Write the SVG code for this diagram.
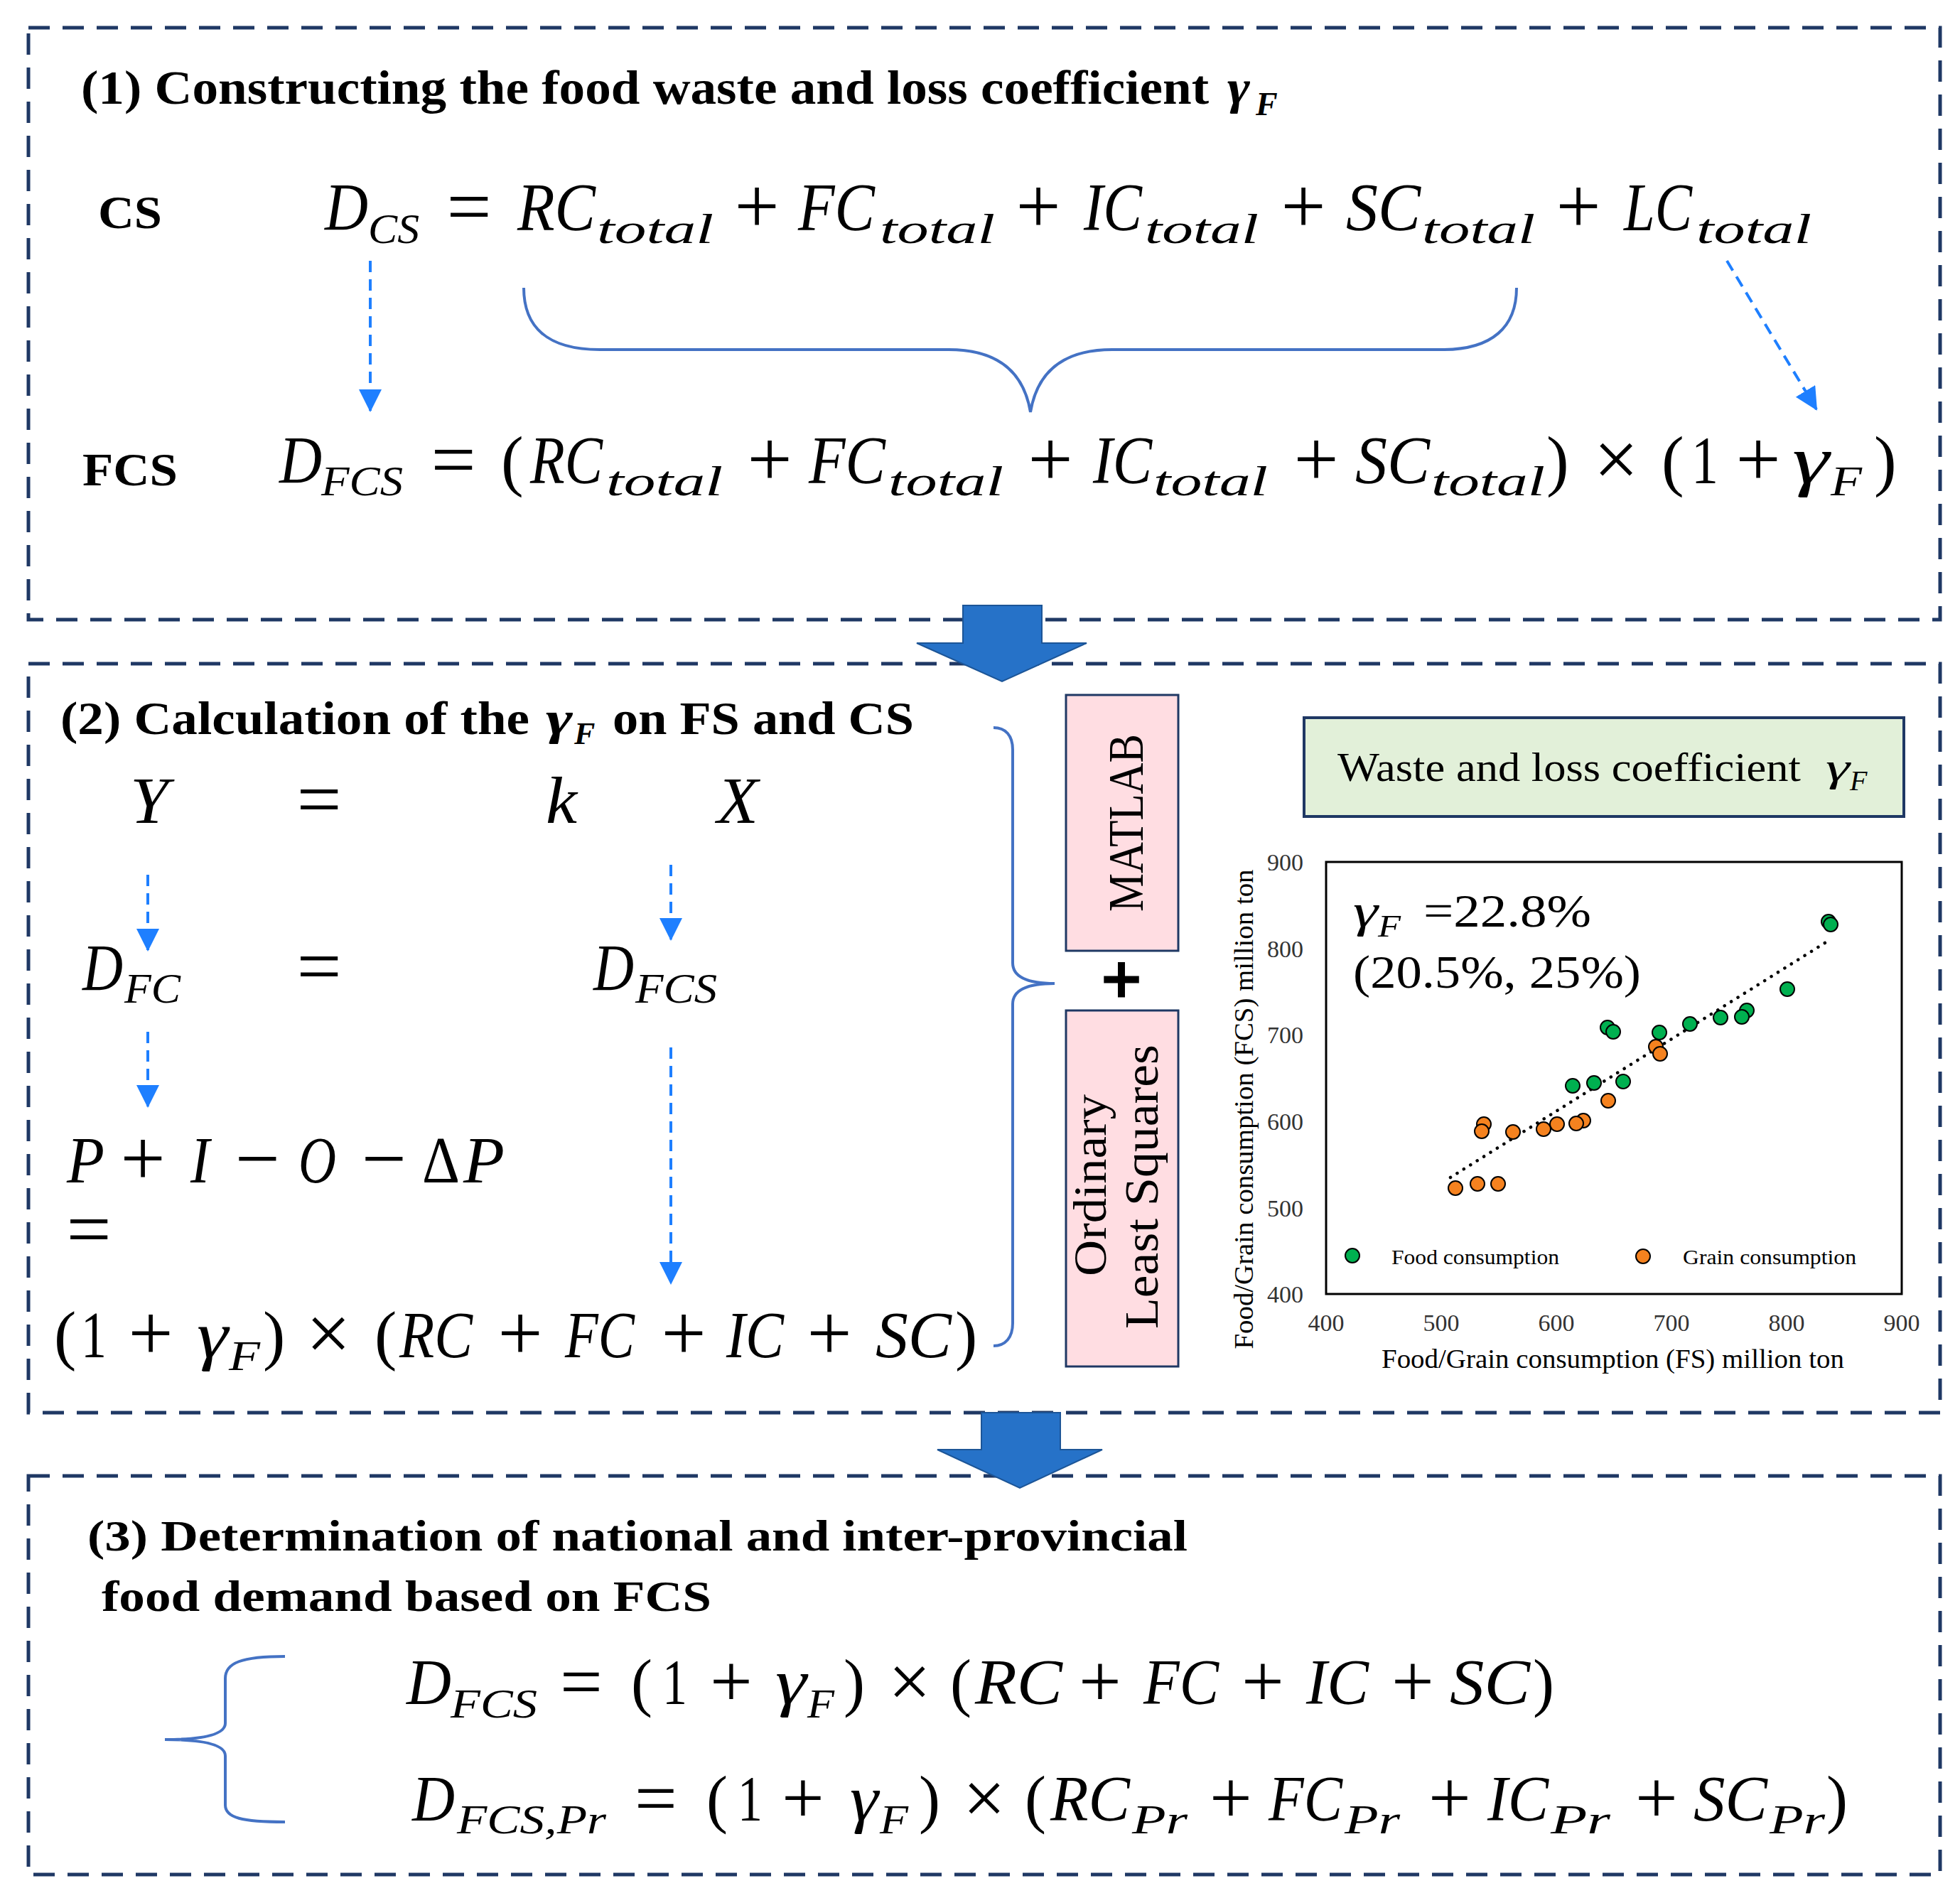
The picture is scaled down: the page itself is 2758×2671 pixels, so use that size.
<svg xmlns="http://www.w3.org/2000/svg" width="2758" height="2671" viewBox="0 0 2758 2671">
<style>
.box{fill:none;stroke:#1F3864;stroke-width:5;stroke-dasharray:30 18}
.bt{font-family:"Liberation Serif",serif;font-weight:bold;fill:#000}
.mi{font-family:"Liberation Serif",serif;font-style:italic;fill:#000}
.mu{font-family:"Liberation Serif",serif;fill:#000}
.op{font-family:"Liberation Serif",serif;fill:#000;text-anchor:middle;font-size:112px}
.op3{font-size:106px}
.da{fill:none;stroke:#1E7FFF;stroke-width:4;stroke-dasharray:16 10}
.br{fill:none;stroke:#4472C4;stroke-width:4}
.blk{fill:#2672C8;stroke:#1C5597;stroke-width:2}
.tk{font-family:"Liberation Serif",serif;font-size:34px;fill:#333}
.g{fill:#00B050;stroke:#000;stroke-width:2}
.o{fill:#F5821F;stroke:#000;stroke-width:2}
</style>
<defs>
<marker id="ah" markerWidth="32" markerHeight="32" refX="30" refY="16" orient="auto" markerUnits="userSpaceOnUse">
<path d="M0,0 L32,16 L0,32 z" fill="#1E7FFF"/>
</marker>
</defs>
<rect width="2758" height="2671" fill="#fff"/>

<!-- Box 1 -->
<g id="box1">
<rect class="box" x="40" y="39" width="2690" height="833"/>
<text class="bt" x="114" y="146" font-size="68" textLength="1587" lengthAdjust="spacingAndGlyphs">(1) Constructing the food waste and loss coefficient</text>
<text class="bt" x="1727" y="146" font-size="68" font-style="italic" textLength="32" lengthAdjust="spacingAndGlyphs">γ</text>
<text class="bt" x="1767" y="162" font-size="46" font-style="italic">F</text>
<text class="bt" x="138" y="321" font-size="66" textLength="90" lengthAdjust="spacingAndGlyphs">CS</text>
<text class="bt" x="116" y="683" font-size="66" textLength="134" lengthAdjust="spacingAndGlyphs">FCS</text>
<g id="eq1" font-size="95">
<text class="mi" x="457" y="324" textLength="61" lengthAdjust="spacingAndGlyphs">D</text>
<text class="mi" x="518" y="342" font-size="60" textLength="72" lengthAdjust="spacingAndGlyphs">CS</text>
<text class="op" x="660" y="328">=</text>
<text class="mi" x="728" y="324" textLength="110" lengthAdjust="spacingAndGlyphs">RC</text>
<text class="mi" x="840" y="342" font-size="60" textLength="164" lengthAdjust="spacingAndGlyphs">total</text>
<text class="op" x="1065" y="328">+</text>
<text class="mi" x="1123" y="324" textLength="108" lengthAdjust="spacingAndGlyphs">FC</text>
<text class="mi" x="1238" y="342" font-size="60" textLength="162" lengthAdjust="spacingAndGlyphs">total</text>
<text class="op" x="1461" y="328">+</text>
<text class="mi" x="1525" y="324" textLength="82" lengthAdjust="spacingAndGlyphs">IC</text>
<text class="mi" x="1611" y="342" font-size="60" textLength="160" lengthAdjust="spacingAndGlyphs">total</text>
<text class="op" x="1834" y="328">+</text>
<text class="mi" x="1894" y="324" textLength="105" lengthAdjust="spacingAndGlyphs">SC</text>
<text class="mi" x="2001" y="342" font-size="60" textLength="159" lengthAdjust="spacingAndGlyphs">total</text>
<text class="op" x="2221" y="328">+</text>
<text class="mi" x="2285" y="324" textLength="96" lengthAdjust="spacingAndGlyphs">LC</text>
<text class="mi" x="2387" y="342" font-size="60" textLength="162" lengthAdjust="spacingAndGlyphs">total</text>
</g>
<g id="eq2" font-size="95">
<text class="mi" x="393" y="680" textLength="60" lengthAdjust="spacingAndGlyphs">D</text>
<text class="mi" x="452" y="697" font-size="60" textLength="115" lengthAdjust="spacingAndGlyphs">FCS</text>
<text class="op" x="638" y="684">=</text>
<text class="mu" x="705" y="680">(</text>
<text class="mi" x="746" y="680" textLength="102" lengthAdjust="spacingAndGlyphs">RC</text>
<text class="mi" x="853" y="697" font-size="60" textLength="164" lengthAdjust="spacingAndGlyphs">total</text>
<text class="op" x="1083" y="684">+</text>
<text class="mi" x="1138" y="680" textLength="108" lengthAdjust="spacingAndGlyphs">FC</text>
<text class="mi" x="1250" y="697" font-size="60" textLength="162" lengthAdjust="spacingAndGlyphs">total</text>
<text class="op" x="1478" y="684">+</text>
<text class="mi" x="1538" y="680" textLength="83" lengthAdjust="spacingAndGlyphs">IC</text>
<text class="mi" x="1623" y="697" font-size="60" textLength="161" lengthAdjust="spacingAndGlyphs">total</text>
<text class="op" x="1852" y="684">+</text>
<text class="mi" x="1907" y="680" textLength="105" lengthAdjust="spacingAndGlyphs">SC</text>
<text class="mi" x="2014" y="697" font-size="60" textLength="160" lengthAdjust="spacingAndGlyphs">total</text>
<text class="mu" x="2176" y="680">)</text>
<text class="op" x="2274" y="684">×</text>
<text class="mu" x="2338" y="680">(</text>
<text class="mu" x="2380" y="680" textLength="38" lengthAdjust="spacingAndGlyphs">1</text>
<text class="op" x="2474" y="684">+</text>
<text class="mi" x="2522" y="680" textLength="52" lengthAdjust="spacingAndGlyphs">γ</text>
<text class="mi" x="2576" y="697" font-size="60" textLength="44" lengthAdjust="spacingAndGlyphs">F</text>
<text class="mu" x="2637" y="680">)</text>
</g>
</g>

<!-- Box 2 -->
<g id="box2">
<rect class="box" x="40" y="934" width="2690" height="1054"/>
<text class="bt" x="85" y="1033" font-size="66" textLength="660" lengthAdjust="spacingAndGlyphs">(2) Calculation of the</text>
<text class="bt" x="768" y="1033" font-size="66" font-style="italic" textLength="38" lengthAdjust="spacingAndGlyphs">γ</text>
<text class="bt" x="808" y="1047" font-size="44" font-style="italic">F</text>
<text class="bt" x="862" y="1033" font-size="66" textLength="424" lengthAdjust="spacingAndGlyphs">on FS and CS</text>
<g id="eqY" font-size="94">
<text class="mi" x="183" y="1158" textLength="54" lengthAdjust="spacingAndGlyphs">Y</text>
<text class="op" x="449" y="1162">=</text>
<text class="mi" x="768" y="1158" textLength="44" lengthAdjust="spacingAndGlyphs">k</text>
<text class="mi" x="1009" y="1158" textLength="58" lengthAdjust="spacingAndGlyphs">X</text>
<text class="mi" x="116" y="1393" textLength="57" lengthAdjust="spacingAndGlyphs">D</text>
<text class="mi" x="175" y="1411" font-size="60" textLength="79" lengthAdjust="spacingAndGlyphs">FC</text>
<text class="op" x="449" y="1397">=</text>
<text class="mi" x="835" y="1393" textLength="57" lengthAdjust="spacingAndGlyphs">D</text>
<text class="mi" x="894" y="1411" font-size="60" textLength="115" lengthAdjust="spacingAndGlyphs">FCS</text>
<text class="mi" x="94" y="1664" textLength="53" lengthAdjust="spacingAndGlyphs">P</text>
<text class="op" x="201" y="1668">+</text>
<text class="mi" x="268" y="1664" textLength="27" lengthAdjust="spacingAndGlyphs">I</text>
<text class="op" x="362" y="1668">−</text>
<text class="mi" x="420" y="1664" textLength="53" lengthAdjust="spacingAndGlyphs">O</text>
<text class="op" x="540" y="1668">−</text>
<text class="mu" x="594" y="1664" textLength="53" lengthAdjust="spacingAndGlyphs">Δ</text>
<text class="mi" x="652" y="1664" textLength="58" lengthAdjust="spacingAndGlyphs">P</text>
<text class="op" x="125" y="1767">=</text>
<text class="mu" x="76" y="1910">(</text>
<text class="mu" x="114" y="1910" textLength="36" lengthAdjust="spacingAndGlyphs">1</text>
<text class="op" x="212" y="1914">+</text>
<text class="mi" x="277" y="1910" textLength="44" lengthAdjust="spacingAndGlyphs">γ</text>
<text class="mi" x="322" y="1928" font-size="60" textLength="44" lengthAdjust="spacingAndGlyphs">F</text>
<text class="mu" x="370" y="1910">)</text>
<text class="op" x="462" y="1914">×</text>
<text class="mu" x="527" y="1910">(</text>
<text class="mi" x="562" y="1910" textLength="103" lengthAdjust="spacingAndGlyphs">RC</text>
<text class="op" x="732" y="1914">+</text>
<text class="mi" x="795" y="1910" textLength="98" lengthAdjust="spacingAndGlyphs">FC</text>
<text class="op" x="962" y="1914">+</text>
<text class="mi" x="1022" y="1910" textLength="81" lengthAdjust="spacingAndGlyphs">IC</text>
<text class="op" x="1167" y="1914">+</text>
<text class="mi" x="1232" y="1910" textLength="107" lengthAdjust="spacingAndGlyphs">SC</text>
<text class="mu" x="1344" y="1910">)</text>
</g>
</g>

<g id="matlab">
<rect x="1500" y="978" width="158" height="360" fill="#FFDDE2" stroke="#1F3864" stroke-width="3"/>
<text class="mu" font-size="70" text-anchor="middle" transform="translate(1608,1158) rotate(-90)" textLength="250" lengthAdjust="spacingAndGlyphs">MATLAB</text>
</g>
<g id="plus">
<text class="bt" x="1578" y="1412" font-size="100" text-anchor="middle" stroke="#000" stroke-width="3">+</text>
</g>
<g id="ols">
<rect x="1500" y="1422" width="158" height="501" fill="#FFDDE2" stroke="#1F3864" stroke-width="3"/>
<text class="mu" font-size="66" text-anchor="middle" transform="translate(1556,1668) rotate(-90)" textLength="256" lengthAdjust="spacingAndGlyphs">Ordinary</text>
<text class="mu" font-size="68" text-anchor="middle" transform="translate(1629,1670) rotate(-90)" textLength="400" lengthAdjust="spacingAndGlyphs">Least Squares</text>
</g>

<g id="coef">
<rect x="1835" y="1010" width="844" height="139" fill="#E2F0D9" stroke="#1F3864" stroke-width="4"/>
<text class="mu" x="1882" y="1099" font-size="58" textLength="652" lengthAdjust="spacingAndGlyphs">Waste and loss coefficient</text>
<text class="mi" x="2569" y="1099" font-size="58" textLength="34" lengthAdjust="spacingAndGlyphs">γ</text>
<text class="mi" x="2603" y="1112" font-size="40">F</text>
</g>

<g id="chart">
<rect x="1866" y="1213" width="810" height="608" fill="#fff" stroke="#000" stroke-width="3"/>
<g text-anchor="end">
<text class="tk" x="1834" y="1225">900</text>
<text class="tk" x="1834" y="1347">800</text>
<text class="tk" x="1834" y="1468">700</text>
<text class="tk" x="1834" y="1590">600</text>
<text class="tk" x="1834" y="1712">500</text>
<text class="tk" x="1834" y="1833">400</text>
</g>
<g text-anchor="middle">
<text class="tk" x="1866" y="1873">400</text>
<text class="tk" x="2028" y="1873">500</text>
<text class="tk" x="2190" y="1873">600</text>
<text class="tk" x="2352" y="1873">700</text>
<text class="tk" x="2514" y="1873">800</text>
<text class="tk" x="2676" y="1873">900</text>
</g>
<text class="mu" x="1944" y="1925" font-size="38" fill="#222" textLength="651" lengthAdjust="spacingAndGlyphs">Food/Grain consumption (FS) million ton</text>
<text class="mu" font-size="38" text-anchor="middle" transform="translate(1763,1561) rotate(-90)" textLength="675" lengthAdjust="spacingAndGlyphs">Food/Grain consumption (FCS) million ton</text>
<line x1="2041" y1="1657" x2="2571" y2="1325" stroke="#000" stroke-width="4.5" stroke-linecap="round" stroke-dasharray="0.1 11"/>
<text class="mi" x="1904" y="1304" font-size="66" textLength="35" lengthAdjust="spacingAndGlyphs">γ</text>
<text class="mi" x="1939" y="1318" font-size="44" textLength="32" lengthAdjust="spacingAndGlyphs">F</text>
<text class="mu" x="2003" y="1304" font-size="66" textLength="236" lengthAdjust="spacingAndGlyphs">=22.8%</text>
<text class="mu" x="1904" y="1390" font-size="66" textLength="405" lengthAdjust="spacingAndGlyphs">(20.5%, 25%)</text>
<g id="green-pts">
<circle class="g" cx="2573" cy="1297" r="10"/>
<circle class="g" cx="2576" cy="1301" r="10"/>
<circle class="g" cx="2515" cy="1392" r="10"/>
<circle class="g" cx="2458" cy="1422" r="10"/>
<circle class="g" cx="2451" cy="1431" r="10"/>
<circle class="g" cx="2421" cy="1432" r="10"/>
<circle class="g" cx="2378" cy="1441" r="10"/>
<circle class="g" cx="2335" cy="1453" r="10"/>
<circle class="g" cx="2262" cy="1446" r="10"/>
<circle class="g" cx="2270" cy="1452" r="10"/>
<circle class="g" cx="2284" cy="1522" r="10"/>
<circle class="g" cx="2243" cy="1524" r="10"/>
<circle class="g" cx="2213" cy="1528" r="10"/>
</g>
<g id="orange-pts">
<circle class="o" cx="2330" cy="1473" r="10"/>
<circle class="o" cx="2336" cy="1483" r="10"/>
<circle class="o" cx="2263" cy="1549" r="10"/>
<circle class="o" cx="2228" cy="1577" r="10"/>
<circle class="o" cx="2218" cy="1581" r="10"/>
<circle class="o" cx="2191" cy="1582" r="10"/>
<circle class="o" cx="2172" cy="1589" r="10"/>
<circle class="o" cx="2129" cy="1593" r="10"/>
<circle class="o" cx="2088" cy="1582" r="10"/>
<circle class="o" cx="2085" cy="1592" r="10"/>
<circle class="o" cx="2108" cy="1666" r="10"/>
<circle class="o" cx="2079" cy="1666" r="10"/>
<circle class="o" cx="2048" cy="1672" r="10"/>
</g>
<circle class="g" cx="1903" cy="1767" r="10"/>
<text class="mu" x="1958" y="1779" font-size="30" fill="#333" textLength="236" lengthAdjust="spacingAndGlyphs">Food consumption</text>
<circle class="o" cx="2312" cy="1768" r="10"/>
<text class="mu" x="2368" y="1779" font-size="30" fill="#333" textLength="244" lengthAdjust="spacingAndGlyphs">Grain consumption</text>
</g>

<!-- Box 3 -->
<g id="box3">
<rect class="box" x="40" y="2077" width="2690" height="561"/>
<text class="bt" x="123" y="2182" font-size="62" textLength="1548" lengthAdjust="spacingAndGlyphs">(3) Determination of national and inter-provincial</text>
<text class="bt" x="143" y="2267" font-size="62" textLength="858" lengthAdjust="spacingAndGlyphs">food demand based on FCS</text>
<g id="eq3" font-size="90">
<text class="mi" x="572" y="2398" textLength="63" lengthAdjust="spacingAndGlyphs">D</text>
<text class="mi" x="634" y="2417" font-size="58" textLength="122" lengthAdjust="spacingAndGlyphs">FCS</text>
<text class="op op3" x="818" y="2402">=</text>
<text class="mu" x="888" y="2398">(</text>
<text class="mu" x="932" y="2398" textLength="35" lengthAdjust="spacingAndGlyphs">1</text>
<text class="op op3" x="1029" y="2402">+</text>
<text class="mi" x="1091" y="2398" textLength="44" lengthAdjust="spacingAndGlyphs">γ</text>
<text class="mi" x="1136" y="2417" font-size="58" textLength="38" lengthAdjust="spacingAndGlyphs">F</text>
<text class="mu" x="1187" y="2398">)</text>
<text class="op op3" x="1280" y="2402">×</text>
<text class="mu" x="1337" y="2398">(</text>
<text class="mi" x="1372" y="2398" textLength="123" lengthAdjust="spacingAndGlyphs">RC</text>
<text class="op op3" x="1548" y="2402">+</text>
<text class="mi" x="1609" y="2398" textLength="106" lengthAdjust="spacingAndGlyphs">FC</text>
<text class="op op3" x="1777" y="2402">+</text>
<text class="mi" x="1838" y="2398" textLength="88" lengthAdjust="spacingAndGlyphs">IC</text>
<text class="op op3" x="1988" y="2402">+</text>
<text class="mi" x="2040" y="2398" textLength="113" lengthAdjust="spacingAndGlyphs">SC</text>
<text class="mu" x="2157" y="2398">)</text>

<text class="mi" x="580" y="2562" textLength="60" lengthAdjust="spacingAndGlyphs">D</text>
<text class="mi" x="643" y="2580" font-size="58" textLength="210" lengthAdjust="spacingAndGlyphs">FCS,Pr</text>
<text class="op op3" x="923" y="2566">=</text>
<text class="mu" x="994" y="2562">(</text>
<text class="mu" x="1038" y="2562" textLength="35" lengthAdjust="spacingAndGlyphs">1</text>
<text class="op op3" x="1130" y="2566">+</text>
<text class="mi" x="1196" y="2562" textLength="40" lengthAdjust="spacingAndGlyphs">γ</text>
<text class="mi" x="1238" y="2580" font-size="58" textLength="40" lengthAdjust="spacingAndGlyphs">F</text>
<text class="mu" x="1293" y="2562">)</text>
<text class="op op3" x="1385" y="2566">×</text>
<text class="mu" x="1442" y="2562">(</text>
<text class="mi" x="1478" y="2562" textLength="112" lengthAdjust="spacingAndGlyphs">RC</text>
<text class="mi" x="1593" y="2580" font-size="58" textLength="78" lengthAdjust="spacingAndGlyphs">Pr</text>
<text class="op op3" x="1732" y="2566">+</text>
<text class="mi" x="1785" y="2562" textLength="104" lengthAdjust="spacingAndGlyphs">FC</text>
<text class="mi" x="1892" y="2580" font-size="58" textLength="78" lengthAdjust="spacingAndGlyphs">Pr</text>
<text class="op op3" x="2040" y="2566">+</text>
<text class="mi" x="2093" y="2562" textLength="86" lengthAdjust="spacingAndGlyphs">IC</text>
<text class="mi" x="2182" y="2580" font-size="58" textLength="84" lengthAdjust="spacingAndGlyphs">Pr</text>
<text class="op op3" x="2331" y="2566">+</text>
<text class="mi" x="2383" y="2562" textLength="104" lengthAdjust="spacingAndGlyphs">SC</text>
<text class="mi" x="2490" y="2580" font-size="58" textLength="78" lengthAdjust="spacingAndGlyphs">Pr</text>
<text class="mu" x="2570" y="2562">)</text>
</g>
</g>

<!-- Connectors -->
<g id="connectors">
<path class="br" d="M737 405 C737 460 770 492 844 492 L1335 492 C1400 492 1440 520 1450 580 C1460 520 1500 492 1565 492 L2030 492 C2100 492 2134 460 2134 405"/>
<path class="br" d="M1398 1024 C1415 1024 1425 1035 1425 1055 L1425 1355 C1425 1372 1440 1384 1484 1384 C1440 1384 1425 1396 1425 1413 L1425 1862 C1425 1882 1415 1894 1398 1894"/>
<path class="br" d="M401 2331 C340 2331 317 2340 317 2362 L317 2425 C317 2440 290 2448 232 2448 C290 2448 317 2456 317 2471 L317 2540 C317 2558 340 2564 401 2564"/>
<line class="da" x1="521" y1="367" x2="521" y2="578" marker-end="url(#ah)"/>
<line class="da" x1="2430" y1="367" x2="2556" y2="576" marker-end="url(#ah)"/>
<line class="da" x1="208" y1="1231" x2="208" y2="1337" marker-end="url(#ah)"/>
<line class="da" x1="944" y1="1217" x2="944" y2="1322" marker-end="url(#ah)"/>
<line class="da" x1="208" y1="1452" x2="208" y2="1557" marker-end="url(#ah)"/>
<line class="da" x1="944" y1="1474" x2="944" y2="1806" marker-end="url(#ah)"/>
<polygon class="blk" points="1355,852 1466,852 1466,905 1529,905 1410,959 1290,905 1355,905"/>
<polygon class="blk" points="1381,1988 1492,1988 1492,2040 1551,2040 1435,2094 1319,2040 1381,2040"/>
</g>
</svg>
